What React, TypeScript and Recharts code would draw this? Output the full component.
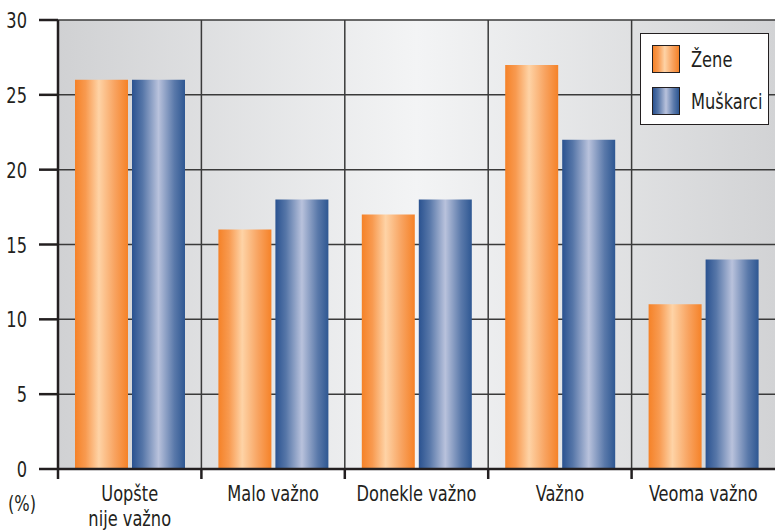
import React from "react";
import {
  BarChart,
  Bar,
  XAxis,
  YAxis,
  CartesianGrid,
  Legend,
  Label,
} from "recharts";

const categories = [
  "Uopšte\nnije važno",
  "Malo važno",
  "Donekle važno",
  "Važno",
  "Veoma važno",
];
const zene = [26, 16, 17, 27, 11];
const muskarci = [26, 18, 18, 22, 14];
const yTicks = [0, 5, 10, 15, 20, 25, 30];
const seriesNames = ["Žene", "Muškarci"];

const W = 775;
const H = 531;
const AXIS_W = 58;
const AXIS_H = 62;
const FONT = '"Liberation Sans Narrow", "DejaVu Sans Condensed", "Roboto", sans-serif';
const INK = "#231f20";
const SQUEEZE = 0.82;

const data = categories.map((c, i) => ({
  name: c,
  zene: zene[i],
  muskarci: muskarci[i],
}));

// condensed text: the original uses a narrow face, so squeeze horizontally
const NarrowText = ({ x, y, anchor, children }: any) => (
  <text
    transform={`translate(${x},${y}) scale(${SQUEEZE},1)`}
    x={0}
    y={0}
    textAnchor={anchor}
    fontSize={22}
    fontFamily={FONT}
    fill={INK}
  >
    {children}
  </text>
);

const CategoryTick = (props: any) => {
  const { x, y, payload } = props;
  const band = (W - AXIS_W) / categories.length;
  const lines = String(payload.value).split("\n");
  const left = x - band / 2;
  return (
    <g>
      <line x1={left} y1={y} x2={left} y2={y + 10} stroke={INK} strokeWidth={2.5} />
      {lines.map((l, i) => (
        <NarrowText key={i} x={x} y={y + 32 + i * 25} anchor="middle">
          {l}
        </NarrowText>
      ))}
    </g>
  );
};

const ValueTick = (props: any) => {
  const { x, y, payload } = props;
  return (
    <NarrowText x={x} y={y + 8} anchor="end">
      {payload.value}
    </NarrowText>
  );
};

const swatch = (grad: string) => ({
  width: 28,
  height: 28,
  flex: "none",
  border: `1px solid ${INK}`,
  boxSizing: "border-box" as const,
  background: grad,
});

const ORANGE_CSS =
  "linear-gradient(to right, #f58228 0%, #f89a50 20%, #fed3a6 45%, #f8a360 75%, #f58228 100%)";
const BLUE_CSS =
  "linear-gradient(to right, #2a5290 0%, #5676a8 20%, #b9c2dc 50%, #5a79aa 80%, #2e5792 100%)";

const labelStyle = {
  marginLeft: 11,
  display: "inline-block",
  transform: `scaleX(${SQUEEZE})`,
  transformOrigin: "left center",
  whiteSpace: "nowrap" as const,
};

const LegendBox = () => (
  <div
    style={{
      width: 129,
      height: 92,
      boxSizing: "border-box",
      background: "#fff",
      border: `1px solid ${INK}`,
      padding: "11px 0 0 11px",
      fontFamily: FONT,
      fontSize: 22,
      color: INK,
    }}
  >
    <div style={{ display: "flex", alignItems: "center", height: 28 }}>
      <div style={swatch(ORANGE_CSS)} />
      <span style={labelStyle}>{seriesNames[0]}</span>
    </div>
    <div style={{ display: "flex", alignItems: "center", height: 28, marginTop: 14 }}>
      <div style={swatch(BLUE_CSS)} />
      <span style={labelStyle}>{seriesNames[1]}</span>
    </div>
  </div>
);

export default function App() {
  return (
    <div style={{ position: "absolute", left: 0, top: 0, width: W, height: H }}>
      <BarChart
        width={W}
        height={H}
        data={data}
        margin={{ top: 20, right: 0, left: 0, bottom: 0 }}
        barCategoryGap={17}
        barGap={4}
      >
        <defs>
          <linearGradient id="bgGrad" x1="0" y1="0" x2="1" y2="0">
            <stop offset="0%" stopColor="#d0d1d3" />
            <stop offset="50%" stopColor="#f3f4f5" />
            <stop offset="100%" stopColor="#d2d3d5" />
          </linearGradient>
          <linearGradient id="orangeGrad" x1="0" y1="0" x2="1" y2="0">
            <stop offset="0%" stopColor="#f58228" />
            <stop offset="20%" stopColor="#f89a50" />
            <stop offset="45%" stopColor="#fed3a6" />
            <stop offset="75%" stopColor="#f8a360" />
            <stop offset="100%" stopColor="#f58228" />
          </linearGradient>
          <linearGradient id="blueGrad" x1="0" y1="0" x2="1" y2="0">
            <stop offset="0%" stopColor="#2a5290" />
            <stop offset="20%" stopColor="#5676a8" />
            <stop offset="50%" stopColor="#b9c2dc" />
            <stop offset="80%" stopColor="#5a79aa" />
            <stop offset="100%" stopColor="#2e5792" />
          </linearGradient>
        </defs>
        <CartesianGrid
          fill="url(#bgGrad)"
          fillOpacity={1}
          stroke="#3a3a3a"
          strokeWidth={1.5}
          verticalCoordinatesGenerator={({ offset }: any) =>
            categories.map((_, i) => offset.left + (i * offset.width) / categories.length)
          }
        />
        <XAxis
          dataKey="name"
          height={AXIS_H}
          axisLine={{ stroke: INK, strokeWidth: 2.5 }}
          tickLine={false}
          tickSize={0}
          tickMargin={0}
          interval={0}
          tick={<CategoryTick />}
        />
        <YAxis
          width={AXIS_W}
          domain={[0, 30]}
          ticks={yTicks}
          interval={0}
          axisLine={{ stroke: INK, strokeWidth: 2.5 }}
          tickLine={{ stroke: INK, strokeWidth: 2.5 }}
          tickSize={19}
          tickMargin={12}
          tick={<ValueTick />}
        >
          <Label
            content={(p: any) => (
              <NarrowText
                x={p.viewBox.x + 8}
                y={p.viewBox.y + p.viewBox.height + 42}
                anchor="start"
              >
                (%)
              </NarrowText>
            )}
          />
        </YAxis>
        <Legend
          layout="vertical"
          align="center"
          verticalAlign="middle"
          content={() => <LegendBox />}
          wrapperStyle={{ left: 640, top: 33, width: 129, height: 92 }}
        />
        <Bar
          dataKey="zene"
          name={seriesNames[0]}
          fill="url(#orangeGrad)"
          isAnimationActive={false}
        />
        <Bar
          dataKey="muskarci"
          name={seriesNames[1]}
          fill="url(#blueGrad)"
          isAnimationActive={false}
        />
      </BarChart>
    </div>
  );
}
